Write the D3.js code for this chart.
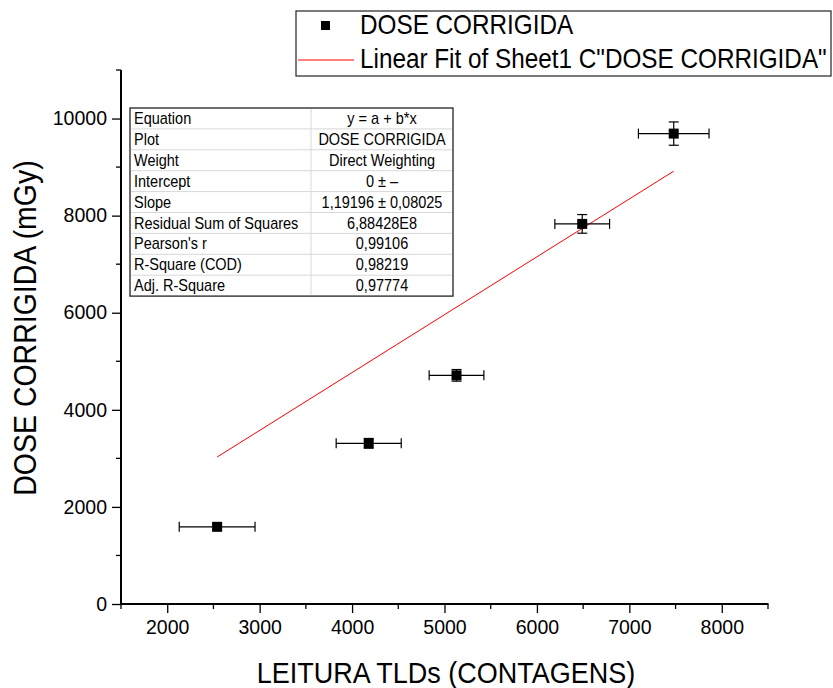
<!DOCTYPE html>
<html>
<head>
<meta charset="utf-8">
<script src="https://cdn.jsdelivr.net/npm/d3@7/dist/d3.min.js"></script>
<style>
  html, body { margin: 0; padding: 0; background: #fff; }
  svg { display: block; font-family: "Liberation Sans", Arial, sans-serif; }
</style>
</head>
<body>
<svg id="chart" width="833" height="688"></svg>
<script>
// Measured points: TLD readings (counts) vs corrected dose (mGy)
const leitura = [2540, 4180, 5130, 6490, 7480];
const dose = [1590, 3310, 4710, 7830, 9690];
const errLeitura = [410, 352, 296, 296, 382];
const errDose = [60, 100, 120, 192, 240];

// Linear fit through origin (intercept fixed at 0)
const slope = 1.19196;

const xTicks = [2000, 3000, 4000, 5000, 6000, 7000, 8000];
const yTicks = [0, 2000, 4000, 6000, 8000, 10000];

const tableLabels = ["Equation", "Plot", "Weight", "Intercept", "Slope",
  "Residual Sum of Squares", "Pearson's r", "R-Square (COD)", "Adj. R-Square"];
const tableValues = ["y = a + b*x", "DOSE CORRIGIDA", "Direct Weighting", "0 ± \u2013",
  "1,19196 ± 0,08025", "6,88428E8", "0,99106", "0,98219", "0,97774"];

const svg = d3.select("#chart");

const x = d3.scaleLinear().domain([1500, 8500]).range([121, 768]);
const y = d3.scaleLinear().domain([0, 11000]).range([604, 70]);

// Helper: text slightly stretched vertically around its baseline
function tallText(g, tx, ty, size, str, anchor, rot) {
  const t = g.append("text")
    .attr("transform", `translate(${tx},${ty})` + (rot ? ` rotate(${rot})` : "") + " scale(1,1.1)")
    .attr("font-size", size).attr("text-anchor", anchor || "start").attr("fill", "#000").text(str);
  return t;
}

// Axes
const xMinor = d3.range(1500, 8501, 1000);
const yMinor = d3.range(1000, 11001, 2000);

const gx = svg.append("g").attr("transform", "translate(0,604)");
gx.call(d3.axisBottom(x).tickValues(xTicks).tickSize(9).tickPadding(7).tickFormat(d3.format("d")));
gx.append("g").selectAll("line").data(xMinor).join("line")
  .attr("x1", d => x(d)).attr("x2", d => x(d)).attr("y1", 0).attr("y2", 5)
  .attr("stroke", "#000").attr("stroke-width", 1.3);

const gy = svg.append("g").attr("transform", "translate(121,0)");
gy.call(d3.axisLeft(y).tickValues(yTicks).tickSize(9).tickPadding(5).tickFormat(d3.format("d")));
gy.append("g").selectAll("line").data(yMinor).join("line")
  .attr("y1", d => y(d)).attr("y2", d => y(d)).attr("x1", 0).attr("x2", -5)
  .attr("stroke", "#000").attr("stroke-width", 1.3);

[gx, gy].forEach(g => {
  g.select(".domain").attr("d", null);
  g.selectAll(".tick line").attr("stroke-width", 1.3);
  g.selectAll(".tick text").attr("font-size", 19.5).attr("fill", "#000")
    .attr("font-family", "'Liberation Sans', Arial, sans-serif");
});
svg.append("line").attr("x1", 120).attr("x2", 768.5).attr("y1", y(0)).attr("y2", y(0))
  .attr("stroke", "#000").attr("stroke-width", 2);
svg.append("line").attr("x1", 121).attr("x2", 121).attr("y1", y(11000)).attr("y2", y(0) + 1)
  .attr("stroke", "#000").attr("stroke-width", 2);

// Axis titles
tallText(svg, 446, 683, 27, "LEITURA TLDs (CONTAGENS)", "middle");
tallText(svg, 36, 328, 28.5, "DOSE CORRIGIDA (mGy)", "middle", -90);

// Fit line
const xExt = d3.extent(leitura);
svg.append("line")
  .attr("x1", x(xExt[0])).attr("y1", y(slope * xExt[0]))
  .attr("x2", x(xExt[1])).attr("y2", y(slope * xExt[1]))
  .attr("stroke", "#ff0000").attr("stroke-width", 1);

// Error bars and markers
const pts = leitura.map((v, i) => ({ x: v, y: dose[i], ex: errLeitura[i], ey: errDose[i] }));
const eb = svg.append("g").attr("stroke", "#000").attr("stroke-width", 1.2);
pts.forEach(p => {
  const cx = x(p.x), cy = y(p.y);
  eb.append("line").attr("x1", x(p.x - p.ex)).attr("x2", x(p.x + p.ex)).attr("y1", cy).attr("y2", cy);
  eb.append("line").attr("x1", x(p.x - p.ex)).attr("x2", x(p.x - p.ex)).attr("y1", cy - 5).attr("y2", cy + 5);
  eb.append("line").attr("x1", x(p.x + p.ex)).attr("x2", x(p.x + p.ex)).attr("y1", cy - 5).attr("y2", cy + 5);
  eb.append("line").attr("x1", cx).attr("x2", cx).attr("y1", y(p.y - p.ey)).attr("y2", y(p.y + p.ey));
  eb.append("line").attr("x1", cx - 5).attr("x2", cx + 5).attr("y1", y(p.y - p.ey)).attr("y2", y(p.y - p.ey));
  eb.append("line").attr("x1", cx - 5).attr("x2", cx + 5).attr("y1", y(p.y + p.ey)).attr("y2", y(p.y + p.ey));
});
svg.append("g").selectAll("rect").data(pts).join("rect")
  .attr("x", d => x(d.x) - 5).attr("y", d => y(d.y) - 5)
  .attr("width", 10).attr("height", 10).attr("fill", "#000");

// Fit statistics table
const tb = svg.append("g");
const tX = 130, tY = 108, rowH = 20.9, c1 = 181, c2 = 142;
tb.append("rect").attr("x", tX).attr("y", tY).attr("width", c1 + c2).attr("height", rowH * tableLabels.length)
  .attr("fill", "#fff").attr("stroke", "#222").attr("stroke-width", 1.3);
tableLabels.forEach((lab, i) => {
  const ry = tY + i * rowH;
  if (i > 0) tb.append("line").attr("x1", tX + 1).attr("x2", tX + c1 + c2 - 1).attr("y1", ry).attr("y2", ry)
    .attr("stroke", "#d8d8d8").attr("stroke-width", 1);
  tallText(tb, tX + 4, ry + 16, 14.5, lab);
  tallText(tb, tX + c1 + c2 / 2, ry + 16, 14.5, tableValues[i], "middle");
});
tb.append("line").attr("x1", tX + c1).attr("x2", tX + c1).attr("y1", tY + 1).attr("y2", tY + rowH * tableLabels.length - 1)
  .attr("stroke", "#d8d8d8").attr("stroke-width", 1);

// Legend
const lg = svg.append("g");
lg.append("rect").attr("x", 296).attr("y", 11).attr("width", 535).attr("height", 65)
  .attr("fill", "#fff").attr("stroke", "#222").attr("stroke-width", 1.2);
lg.append("rect").attr("x", 321).attr("y", 21).attr("width", 9).attr("height", 9).attr("fill", "#000");
tallText(lg, 360, 34, 24.3, "DOSE CORRIGIDA");
lg.append("line").attr("x1", 298).attr("x2", 354).attr("y1", 60).attr("y2", 60)
  .attr("stroke", "#ff0000").attr("stroke-width", 1);
tallText(lg, 360, 68, 24.3, "Linear Fit of Sheet1 C\"DOSE CORRIGIDA\"");
</script>
</body>
</html>
